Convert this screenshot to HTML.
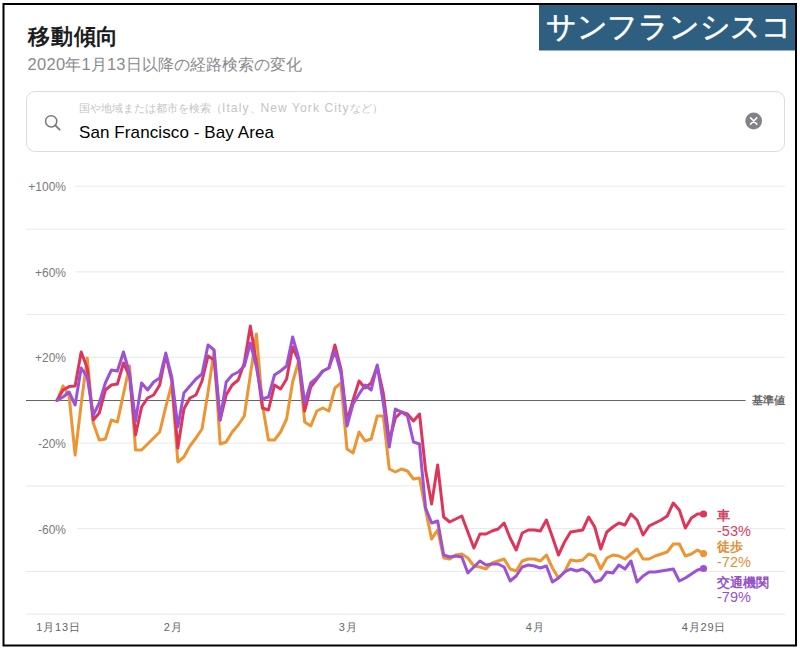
<!DOCTYPE html>
<html lang="ja">
<head>
<meta charset="utf-8">
<style>
html,body{margin:0;padding:0;background:#fff;}
body{width:800px;height:650px;position:relative;overflow:hidden;font-family:"Liberation Sans",sans-serif;}
.abs{position:absolute;white-space:nowrap;}
#title{left:28px;top:22px;font-size:22px;letter-spacing:0.8px;font-weight:bold;color:#1d1d1f;line-height:30px;}
.dg{letter-spacing:0.3px;font-size:16.5px;}
#sub{left:27.5px;top:53px;font-size:16px;color:#8a8a8e;line-height:22px;}
#search{position:absolute;left:26px;top:91px;width:757px;height:59px;border:1px solid #dcdcdc;border-radius:9px;}
.la{font-size:12px;letter-spacing:1.1px;}
#ph{left:79px;top:101px;font-size:11px;color:#c4c4c6;line-height:14px;}
#val{left:79px;top:122px;font-size:17px;letter-spacing:0.1px;color:#000;line-height:22px;}
#bluet{left:546px;top:8px;font-size:30px;letter-spacing:-0.3px;color:#fff;-webkit-text-stroke:0.5px #fff;line-height:38px;}
.yl{font-size:12px;fill:#7a7a7a;font-family:"Liberation Sans",sans-serif;}
.xl{position:absolute;font-size:11px;color:#666;letter-spacing:0.8px;line-height:14px;white-space:nowrap;transform:translateX(-50%);top:620px;}
.lg{position:absolute;left:717px;font-size:13px;line-height:16px;white-space:nowrap;}
.lp{font-size:14.5px;}
#kj{left:752px;top:393px;font-size:11px;color:#666;font-weight:bold;line-height:14px;}
</style>
</head>
<body>
<div id="title" class="abs">移動傾向</div>
<div id="sub" class="abs"><span class="dg">2020</span>年<span class="dg">1</span>月<span class="dg">13</span>日以降の経路検索の変化</div>
<div id="search"></div>
<svg class="abs" style="left:0;top:0" width="800" height="650">
  <circle cx="51.2" cy="121.3" r="5.6" fill="none" stroke="#7a7a7e" stroke-width="1.5"/>
  <line x1="55.3" y1="125.4" x2="59.6" y2="129.7" stroke="#7a7a7e" stroke-width="1.8" stroke-linecap="round"/>
  <circle cx="753.7" cy="121" r="8.4" fill="#838387"/>
  <path d="M750.6 117.9 L756.8 124.1 M756.8 117.9 L750.6 124.1" stroke="#fff" stroke-width="1.5" stroke-linecap="round"/>
<line x1="75" y1="186.2" x2="785" y2="186.2" stroke="#e8e8e8" stroke-width="1"/>
<text x="66" y="191.2" text-anchor="end" class="yl">+100%</text>
<line x1="26" y1="229.2" x2="785" y2="229.2" stroke="#e8e8e8" stroke-width="1"/>
<line x1="75" y1="271.9" x2="785" y2="271.9" stroke="#e8e8e8" stroke-width="1"/>
<text x="66" y="276.9" text-anchor="end" class="yl">+60%</text>
<line x1="26" y1="314.6" x2="785" y2="314.6" stroke="#e8e8e8" stroke-width="1"/>
<line x1="75" y1="357.3" x2="785" y2="357.3" stroke="#e8e8e8" stroke-width="1"/>
<text x="66" y="362.3" text-anchor="end" class="yl">+20%</text>
<line x1="77" y1="443.1" x2="785" y2="443.1" stroke="#e8e8e8" stroke-width="1"/>
<text x="66" y="448.1" text-anchor="end" class="yl">-20%</text>
<line x1="26" y1="485.9" x2="785" y2="485.9" stroke="#e8e8e8" stroke-width="1"/>
<line x1="77" y1="528.6" x2="785" y2="528.6" stroke="#e8e8e8" stroke-width="1"/>
<text x="66" y="533.6" text-anchor="end" class="yl">-60%</text>
<line x1="26" y1="571.4" x2="785" y2="571.4" stroke="#e8e8e8" stroke-width="1"/>
<line x1="26" y1="614.2" x2="785" y2="614.2" stroke="#e8e8e8" stroke-width="1"/>
<line x1="26" y1="400.45" x2="745.5" y2="400.45" stroke="#656565" stroke-width="1.05"/>
<polyline points="57.00,400.5 63.04,386.0 69.08,396.0 75.13,455.0 81.17,404.0 87.21,358.0 93.25,423.0 99.29,440.0 105.34,439.0 111.38,420.0 117.42,422.0 123.46,394.0 129.50,366.0 135.55,450.0 141.59,450.0 147.63,444.0 153.67,438.0 159.71,432.0 165.76,407.0 171.80,384.0 177.84,462.0 183.88,457.0 189.93,446.0 195.97,438.0 202.01,429.0 208.05,392.0 214.09,351.0 220.14,444.0 226.18,442.0 232.22,432.0 238.26,425.0 244.30,416.0 250.35,375.0 256.39,334.0 262.43,405.0 268.47,440.0 274.51,440.0 280.56,432.0 286.60,419.0 292.64,382.0 298.68,361.0 304.72,422.0 310.77,426.0 316.81,411.0 322.85,408.0 328.89,411.0 334.93,388.0 340.98,383.0 347.02,449.0 353.06,453.0 359.10,432.0 365.14,441.0 371.19,439.0 377.23,416.0 383.27,416.0 389.31,469.0 395.36,472.0 401.40,469.0 407.44,471.0 413.48,479.0 419.52,478.0 425.57,510.0 431.61,539.0 437.65,530.0 443.69,558.0 449.73,559.0 455.78,555.0 461.82,554.0 467.86,558.0 473.90,566.0 479.94,567.0 485.99,569.0 492.03,563.0 498.07,561.0 504.11,559.0 510.15,569.0 516.20,571.0 522.24,561.0 528.28,559.0 534.32,559.0 540.36,561.0 546.41,555.0 552.45,568.0 558.49,578.0 564.53,572.0 570.57,560.0 576.62,561.0 582.66,560.0 588.70,554.0 594.74,556.0 600.79,569.0 606.83,558.0 612.87,555.0 618.91,556.0 624.95,559.0 631.00,554.0 637.04,549.0 643.08,559.0 649.12,559.0 655.16,556.0 661.21,554.0 667.25,552.0 673.29,544.0 679.33,544.0 685.37,556.0 691.42,554.0 697.46,550.0 703.50,553.6" fill="none" stroke="#ec9532" stroke-width="3" stroke-linejoin="round" stroke-linecap="round"/>
<polyline points="57.00,400.5 63.04,390.0 69.08,386.6 75.13,386.0 81.17,352.0 87.21,368.0 93.25,420.0 99.29,413.0 105.34,390.0 111.38,385.0 117.42,384.0 123.46,363.0 129.50,376.0 135.55,435.0 141.59,407.0 147.63,398.0 153.67,395.0 159.71,385.0 165.76,355.0 171.80,381.0 177.84,448.0 183.88,409.0 189.93,398.0 195.97,395.0 202.01,381.0 208.05,356.0 214.09,360.0 220.14,420.0 226.18,395.0 232.22,385.0 238.26,380.0 244.30,363.0 250.35,326.0 256.39,363.0 262.43,408.0 268.47,410.0 274.51,385.0 280.56,389.0 286.60,379.0 292.64,347.0 298.68,361.0 304.72,411.0 310.77,387.0 316.81,379.0 322.85,371.0 328.89,368.0 334.93,345.0 340.98,369.0 347.02,421.0 353.06,400.0 359.10,381.0 365.14,388.0 371.19,383.0 377.23,366.0 383.27,393.0 389.31,441.0 395.36,418.0 401.40,412.0 407.44,414.0 413.48,421.0 419.52,414.0 425.57,470.0 431.61,504.0 437.65,465.0 443.69,517.0 449.73,522.0 455.78,519.0 461.82,516.0 467.86,532.0 473.90,548.0 479.94,534.0 485.99,534.0 492.03,531.0 498.07,529.0 504.11,523.0 510.15,538.0 516.20,550.0 522.24,533.0 528.28,530.0 534.32,530.0 540.36,531.0 546.41,520.0 552.45,537.0 558.49,555.0 564.53,542.0 570.57,532.0 576.62,531.0 582.66,530.0 588.70,517.0 594.74,527.0 600.79,549.0 606.83,532.0 612.87,527.0 618.91,523.0 624.95,525.0 631.00,514.0 637.04,520.0 643.08,535.0 649.12,526.0 655.16,523.0 661.21,520.0 667.25,516.0 673.29,503.0 679.33,510.0 685.37,528.0 691.42,518.0 697.46,514.0 703.50,514.0" fill="none" stroke="#de365a" stroke-width="3" stroke-linejoin="round" stroke-linecap="round"/>
<polyline points="57.00,400.5 63.04,397.0 69.08,392.0 75.13,405.0 81.17,368.0 87.21,377.0 93.25,415.0 99.29,403.0 105.34,383.0 111.38,370.0 117.42,371.0 123.46,352.0 129.50,373.0 135.55,421.0 141.59,383.0 147.63,390.0 153.67,382.0 159.71,378.0 165.76,353.0 171.80,377.0 177.84,427.0 183.88,393.0 189.93,386.0 195.97,379.0 202.01,374.0 208.05,345.0 214.09,350.0 220.14,420.0 226.18,382.0 232.22,375.0 238.26,372.0 244.30,366.0 250.35,343.0 256.39,367.0 262.43,399.0 268.47,397.0 274.51,375.0 280.56,371.0 286.60,366.0 292.64,337.0 298.68,358.0 304.72,403.0 310.77,383.0 316.81,378.0 322.85,371.0 328.89,368.0 334.93,351.0 340.98,373.0 347.02,426.0 353.06,404.0 359.10,394.0 365.14,385.0 371.19,390.0 377.23,365.0 383.27,403.0 389.31,447.0 395.36,409.0 401.40,412.0 407.44,416.0 413.48,442.0 419.52,444.0 425.57,508.0 431.61,523.0 437.65,521.0 443.69,555.0 449.73,557.0 455.78,556.0 461.82,557.0 467.86,573.0 473.90,567.0 479.94,561.0 485.99,565.0 492.03,564.0 498.07,564.0 504.11,567.0 510.15,581.0 516.20,576.0 522.24,567.0 528.28,565.0 534.32,566.0 540.36,568.0 546.41,566.0 552.45,582.0 558.49,578.0 564.53,572.0 570.57,569.0 576.62,571.0 582.66,569.0 588.70,573.0 594.74,582.0 600.79,580.0 606.83,572.0 612.87,573.0 618.91,565.0 624.95,569.0 631.00,561.0 637.04,582.0 643.08,576.0 649.12,572.0 655.16,572.0 661.21,571.0 667.25,570.0 673.29,569.0 679.33,581.0 685.37,578.0 691.42,574.0 697.46,570.0 703.50,568.5" fill="none" stroke="#9d52d6" stroke-width="3" stroke-linejoin="round" stroke-linecap="round"/>
<circle cx="703.50" cy="553.6" r="3.6" fill="#ec9532"/>
<circle cx="703.50" cy="514" r="3.6" fill="#de365a"/>
<circle cx="703.50" cy="568.5" r="3.6" fill="#9d52d6"/>
</svg>
<div id="ph" class="abs">国や地域または都市を検索（<span class="la">Italy</span>、<span class="la">New York City</span>など）</div>
<div id="val" class="abs">San Francisco - Bay Area</div>
<div id="kj" class="abs">基準値</div>
<div class="xl" style="left:58.5px">1月13日</div>
<div class="xl" style="left:173px">2月</div>
<div class="xl" style="left:348px">3月</div>
<div class="xl" style="left:535px">4月</div>
<div class="xl" style="left:704px">4月29日</div>
<div class="lg" style="top:508px;color:#d33f62;font-weight:bold">車</div>
<div class="lg lp" style="top:523px;color:#d33f62">-53%</div>
<div class="lg" style="top:539px;color:#df9038;font-weight:bold">徒歩</div>
<div class="lg lp" style="top:554px;color:#df9038">-72%</div>
<div class="lg" style="top:575px;color:#9352cb;font-weight:bold">交通機関</div>
<div class="lg lp" style="top:589px;color:#9352cb">-79%</div>
<svg class="abs" style="left:0;top:0" width="800" height="650"><rect x="539" y="4.5" width="256" height="46" fill="#2e5f80"/><rect x="3.5" y="4" width="792.5" height="641.5" fill="none" stroke="#000" stroke-width="2"/></svg>
<div id="bluet" class="abs">サンフランシスコ</div>
</body>
</html>
